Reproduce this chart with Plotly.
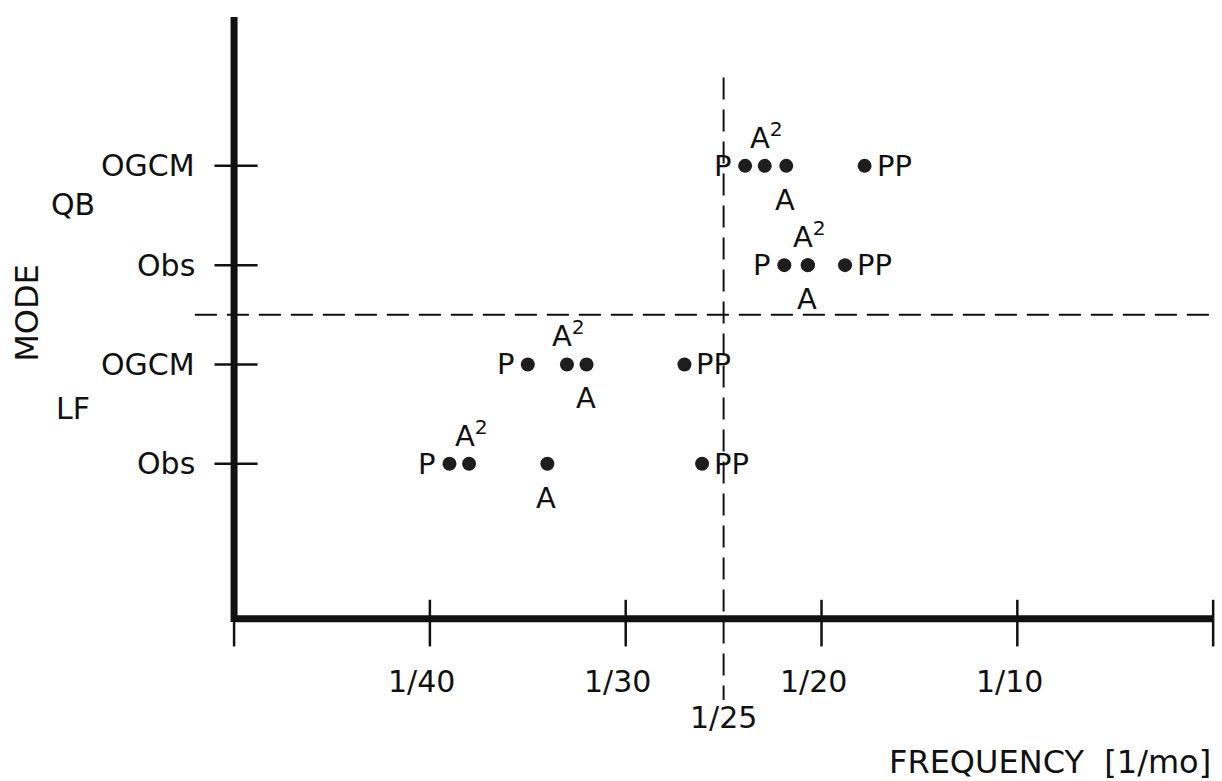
import plotly.graph_objects as go

# ---------------- data ----------------
# rows of the MODE axis (bottom to top)
row_labels = ["Obs", "OGCM", "Obs", "OGCM"]
row_pos = [1, 2, 3, 4]
group_labels = ["LF", "QB"]
group_pos = [1.56, 3.61]

# x axis is linear in period (months), shown as frequency 1/period
tick_periods = [40, 30, 20, 10]
tick_labels = ["1/40", "1/30", "1/20", "1/10"]
ref_period = 25
ref_label = "1/25"

# period of each estimate, per row (LF Obs, LF OGCM, QB Obs, QB OGCM)
P_period = [39.0, 35.0, 21.9, 23.9]
A2_period = [38.0, 33.0, 20.7, 22.9]
A_period = [34.0, 32.0, 20.7, 21.8]
PP_period = [26.1, 27.0, 18.8, 17.8]

# label text and its placement relative to the dot
series = [
    ("P", P_period, dict(xanchor="right", yanchor="middle", xshift=-11, yshift=0)),
    ("A<sup>2</sup>", A2_period, dict(xanchor="center", yanchor="middle", xshift=2, yshift=30)),
    ("A", A_period, dict(xanchor="center", yanchor="middle", xshift=-1, yshift=-34)),
    ("PP", PP_period, dict(xanchor="left", yanchor="middle", xshift=10, yshift=0)),
]

# ---------------- layout constants ----------------
W, H = 1222, 781
ML, MR, MT, MB = 191, 2, 7, 74
X_RANGE = [52.2, -0.35]
Y_RANGE = [-1.45, 5.6]
AX_X0, AX_X1 = 50, 0          # x-axis extent (period)
AX_Y0, AX_Y1 = -0.56, 5.5     # y-axis extent
FONT = "DejaVu Sans"
INK = "#111111"

def paper_x(px):
    return (px - ML) / (W - ML - MR)

def paper_y(py):
    return (H - MB - py) / (H - MT - MB)

fig = go.Figure()
ann = []

for name, per, place in series:
    fig.add_trace(go.Scatter(
        x=per, y=row_pos, mode="markers",
        marker=dict(size=14, color="#1e1e1e"),
        hoverinfo="skip", showlegend=False, name=name,
    ))
    for p, y in zip(per, row_pos):
        ann.append(dict(x=p, y=y, xref="x", yref="y", text=name, showarrow=False,
                        font=dict(family=FONT, size=29, color=INK), **place))

shapes = []
# axes
shapes.append(dict(type="line", xref="x", yref="y", x0=AX_X0, x1=AX_X0,
                   y0=AX_Y0 - 0.035, y1=AX_Y1, line=dict(color=INK, width=7)))
shapes.append(dict(type="line", xref="x", yref="y", x0=AX_X0, x1=AX_X1,
                   y0=AX_Y0, y1=AX_Y0, line=dict(color=INK, width=7)))
# y ticks (crossing)
for y in row_pos:
    shapes.append(dict(type="line", xref="x", yref="y", x0=51.0, x1=48.8,
                       y0=y, y1=y, line=dict(color=INK, width=2.5)))
# x ticks (crossing)
for p in tick_periods + [AX_X1]:
    shapes.append(dict(type="line", xref="x", yref="y", x0=p, x1=p,
                       y0=AX_Y0 - 0.28, y1=AX_Y0 + 0.19, line=dict(color=INK, width=2.5)))
shapes.append(dict(type="line", xref="x", yref="y", x0=AX_X0, x1=AX_X0,
                   y0=AX_Y0 - 0.28, y1=AX_Y0, line=dict(color=INK, width=2.5)))
# dashed separators
shapes.append(dict(type="line", xref="x", yref="y", x0=52.0, x1=-0.25,
                   y0=2.5, y1=2.5, line=dict(color=INK, width=2, dash="22px,10px")))
shapes.append(dict(type="line", xref="x", yref="y", x0=ref_period, x1=ref_period,
                   y0=4.89, y1=-1.38, line=dict(color=INK, width=2, dash="22px,10px")))

for p, t in zip(tick_periods, tick_labels):
    ann.append(dict(x=p, y=paper_y(681), xref="x", yref="paper", text=t, showarrow=False,
                    xanchor="center", yanchor="middle", xshift=-8,
                    font=dict(family=FONT, size=30, color=INK)))
ann.append(dict(x=ref_period, y=paper_y(717), xref="x", yref="paper", text=ref_label,
                showarrow=False, xanchor="center", yanchor="middle",
                font=dict(family=FONT, size=30, color=INK)))
for y, t in zip(row_pos, row_labels):
    ann.append(dict(x=paper_x(197), y=y, xref="paper", yref="y", text=t, showarrow=False,
                    xanchor="right", yanchor="middle",
                    font=dict(family=FONT, size=30, color=INK)))
for y, t in zip(group_pos, group_labels):
    ann.append(dict(x=paper_x(73), y=y, xref="paper", yref="y", text=t, showarrow=False,
                    xanchor="center", yanchor="middle",
                    font=dict(family=FONT, size=30, color=INK)))
ann.append(dict(x=paper_x(27), y=2.52, xref="paper", yref="y", text="MODE", showarrow=False,
                textangle=-90, xanchor="center", yanchor="middle",
                font=dict(family=FONT, size=32, color=INK)))
ann.append(dict(x=paper_x(1213), y=paper_y(762), xref="paper", yref="paper",
                text="FREQUENCY  [1/mo]", showarrow=False, xanchor="right", yanchor="middle",
                font=dict(family=FONT, size=32, color=INK)))

fig.update_layout(
    width=W, height=H,
    margin=dict(l=ML, r=MR, t=MT, b=MB, pad=0),
    paper_bgcolor="white", plot_bgcolor="white",
    xaxis=dict(range=X_RANGE, visible=False, fixedrange=True),
    yaxis=dict(range=Y_RANGE, visible=False, fixedrange=True),
    shapes=shapes, annotations=ann, showlegend=False,
)

fig.write_html("out.html")
